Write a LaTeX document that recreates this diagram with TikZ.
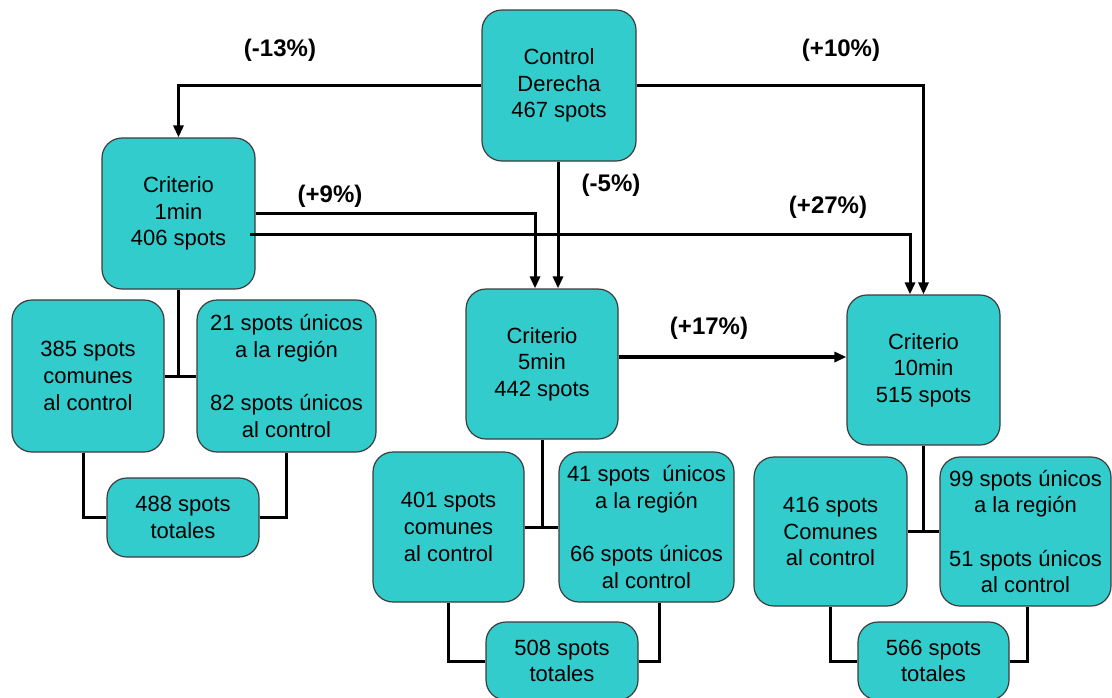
\documentclass[tikz,border=0pt]{standalone}
\usepackage{fontspec}
\setmainfont{Liberation Sans}
\usetikzlibrary{arrows.meta}
\definecolor{boxfill}{RGB}{51,204,204}
\definecolor{boxline}{RGB}{60,60,60}
\begin{document}
\begin{tikzpicture}[x=0.5pt,y=-0.5pt,
  box/.style={draw=boxline, line width=0.6pt, fill=boxfill, rounded corners=10pt,
    inner sep=0pt, align=center, font=\fontsize{11}{13.3}\selectfont},
  sz/.style 2 args={minimum width=#1*0.5pt, minimum height=#2*0.5pt},
  link/.style={line width=1.5pt},
  arr/.style={line width=1.5pt, -{Triangle[length=6pt,width=5pt]}},
  pct/.style={font=\fontsize{12}{14}\selectfont\bfseries, inner sep=1pt}]
\path[use as bounding box, clip] (0,0) rectangle (1112,697);

% main boxes
\node[box, sz={154}{151}] (ctrl) at (559,85.5) {Control\\Derecha\\467 spots};
\node[box, sz={153}{151}] (c1) at (178.5,213.5) {Criterio\\1min\\406 spots};
\node[box, sz={152}{150}] (c5) at (542,364) {Criterio\\5min\\442 spots};
\node[box, sz={153}{150}] (c10) at (923.5,370) {Criterio\\10min\\515 spots};

% details for 1min
\node[box, sz={152}{152}] (b385) at (88,376) {385 spots\\comunes\\al control};
\node[box, sz={179}{152}] (b21) at (286.5,376) {21 spots únicos\\a la región\\[13.3pt]82 spots únicos\\al control};
\node[box, sz={152}{79}] (t488) at (183,517.5) {488 spots\\totales};

% details for 5min
\node[box, sz={151}{150}] (b401) at (448.5,527) {401 spots\\comunes\\al control};
\node[box, sz={175}{150}] (b41) at (646.5,527) {41 spots~ únicos\\a la región\\[13.3pt]66 spots únicos\\al control};
\node[box, sz={152}{78}] (t508) at (562,661) {508 spots\\totales};

% details for 10min
\node[box, sz={153}{149}] (b416) at (830.5,531.5) {416 spots\\Comunes\\al control};
\node[box, sz={171}{149}] (b99) at (1025.5,531.5) {99 spots únicos\\a la región\\[13.3pt]51 spots únicos\\al control};
\node[box, sz={151}{78}] (t566) at (933.5,661) {566 spots\\totales};

% arrows from the control
\draw[arr] (ctrl.west) -| (c1.north);
\draw[arr] (ctrl.east) -| (c10.north);
\coordinate (cs) at ([xshift=-0.5pt]ctrl.south);
\draw[arr] (cs) -- (cs |- c5.north);

% arrows from 1min
\coordinate (t5) at ([xshift=-3.5pt]c5.north);
\draw[arr] (c1.east) -| (t5);
\coordinate (s27) at ([xshift=-3pt,yshift=-10.25pt]c1.east);
\coordinate (t10) at ([xshift=-6.75pt]c10.north);
\draw[arr] (s27) -| (t10);

% arrow 5min -> 10min
\coordinate (s17) at ([yshift=3.5pt]c5.east);
\draw[arr, line width=2.1pt] (s17) -- (s17 -| c10.west);

% percentage labels
\node[pct] (l13) at (280,50) {(-13\%)};
\node[pct] (l10) at (841,50) {(+10\%)};
\node[pct] (l5) at (611,185) {(-5\%)};
\node[pct] (l9) at (330,196) {(+9\%)};
\node[pct] (l27) at (828,207) {(+27\%)};
\node[pct] (l17) at (709,328) {(+17\%)};

% tree links under 1min
\draw[link] (c1.south) -- (c1.south |- b385.east);
\draw[link] (b385.east) -- (b21.west);
\coordinate (d385) at ([xshift=-2.5pt]b385.south);
\draw[link] (d385) |- (t488.west);
\draw[link] (b21.south) |- (t488.east);

% tree links under 5min
\draw[link] (c5.south) -- (c5.south |- b401.east);
\draw[link] (b401.east) -- (b41.west);
\draw[link] (b401.south) |- (t508.west);
\coordinate (d41) at ([xshift=6.25pt]b41.south);
\draw[link] (d41) |- (t508.east);

% tree links under 10min
\draw[link] (c10.south) -- (c10.south |- b416.east);
\draw[link] (b416.east) -- (b99.west);
\draw[link] (b416.south) |- (t566.west);
\coordinate (d99) at ([xshift=0.75pt]b99.south);
\draw[link] (d99) |- (t566.east);
\end{tikzpicture}
\end{document}
